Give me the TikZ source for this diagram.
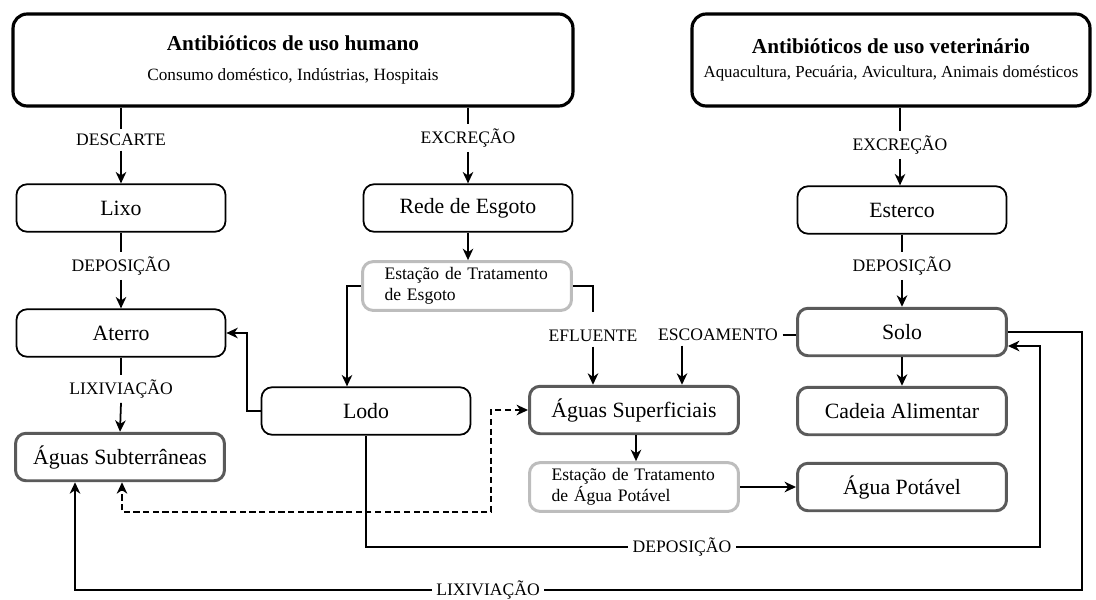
\documentclass[tikz,border=0pt]{standalone}
\usepackage{fontspec}
\setmainfont{Liberation Serif}
\usetikzlibrary{arrows.meta}
\definecolor{boxgray}{HTML}{5A5A5A}
\definecolor{etgray}{HTML}{BDBDBD}
\tikzset{
  srcbox/.style={draw, line width=1.8pt, rounded corners=8pt, align=center, minimum height=1.84cm},
  plainbox/.style={draw, line width=1pt, rounded corners=6pt, minimum width=4.18cm,
    minimum height=0.95cm, font=\fontsize{12.4}{14}\selectfont},
  thickbox/.style={plainbox, draw=boxgray, line width=1.7pt},
  plantbox/.style={draw=etgray, line width=1.7pt, rounded corners=6pt, minimum width=4.18cm,
    minimum height=0.96cm, text width=3.3cm, inner xsep=0.44cm, align=left,
    font=\fontsize{10}{12}\selectfont},
  flowlabel/.style={inner sep=2.5pt, font=\fontsize{10}{12}\selectfont},
  conn/.style={line width=1pt},
  arr/.style={conn, -{Stealth[length=6.5pt,width=6pt,inset=2pt]}},
  dasharr/.style={conn, dash pattern=on 3.5pt off 2pt,
    {Stealth[length=6.5pt,width=6pt,inset=2pt]}-{Stealth[length=6.5pt,width=6pt,inset=2pt]}}
}

\begin{document}
\begin{tikzpicture}[x=0.02cm, y=-0.02cm]
  \useasboundingbox (0,0) rectangle (1096,599);
  % sources
  \node[srcbox, minimum width=11.2cm] (human) at (293,60)
    {{\fontsize{12.1}{14}\selectfont\bfseries Antibióticos de uso humano}\\[5pt]
     {\fontsize{9.8}{12}\selectfont Consumo doméstico, Indústrias, Hospitais}};
  \node[srcbox, minimum width=7.96cm] (vet) at (891,60)
    {{\fontsize{12.1}{14}\selectfont\bfseries Antibióticos de uso veterinário}\\[2pt]
     {\fontsize{9.6}{12}\selectfont Aquacultura, Pecuária, Avicultura, Animais domésticos}};
  % boxes
  \node[plainbox] (lixo) at (121,208) {Lixo};
  \node[plainbox] (aterro) at (121,333) {Aterro};
  \node[thickbox] (agsub) at (120,457) {Águas Subterrâneas};
  \node[plainbox] (rede) at (468,208) {Rede de Esgoto};
  \node[plantbox] (ete) at (467,286) {Estação de Tratamento\\de Esgoto};
  \node[plainbox] (lodo) at (366,411) {Lodo};
  \node[thickbox] (agsup) at (634,410) {Águas Superficiais};
  \node[plantbox] (eta) at (634,487) {Estação de Tratamento\\de Água Potável};
  \node[plainbox] (esterco) at (902,210) {Esterco};
  \node[thickbox] (solo) at (902,332) {Solo};
  \node[thickbox] (cadeia) at (902,411) {Cadeia Alimentar};
  \node[thickbox] (agpot) at (902,487) {Água Potável};
  % labels
  \node[flowlabel] (desc) at (121,140) {DESCARTE};
  \node[flowlabel] (exch) at (468,138) {EXCREÇÃO};
  \node[flowlabel] (excv) at (900,145) {EXCREÇÃO};
  \node[flowlabel] (depl) at (121,266) {DEPOSIÇÃO};
  \node[flowlabel] (depv) at (902,266) {DEPOSIÇÃO};
  \node[flowlabel] (lixl) at (121,389) {LIXIVIAÇÃO};
  \node[flowlabel] (eflu) at (593,336) {EFLUENTE};
  \node[flowlabel] (escoa) at (718,335) {ESCOAMENTO};
  \node[flowlabel] (deplodo) at (682,547) {DEPOSIÇÃO};
  \node[flowlabel] (lixsolo) at (488,590) {LIXIVIAÇÃO};
  \coordinate (depcorner) at (1040,346);
  \coordinate (lixcorner) at (1082,590);
  \coordinate (dashcorner) at (491,512);
  % left column
  \draw[conn] (human.south -| desc) -- (desc.north);
  \draw[arr] (desc.south) -- (lixo.north);
  \draw[conn] (lixo.south) -- (depl.north);
  \draw[arr] (depl.south) -- (aterro.north);
  \draw[conn] (aterro.south) -- (lixl.north);
  \draw[arr] (lixl.south) -- (agsub.north);
  % middle
  \draw[conn] (human.south -| exch) -- (exch.north);
  \draw[arr] (exch.south) -- (rede.north);
  \draw[arr] (rede.south) -- (rede.south |- ete.north);
  \draw[arr] (ete.west) -| ([xshift=-0.38cm]lodo.north);
  \draw[conn] (ete.east) -| ([yshift=0.26cm]eflu.north);
  \draw[arr] (eflu.south) -- (eflu.south |- agsup.north);
  \draw[arr] (lodo.west) -- ++(-14,0) |- (aterro.east);
  \draw[arr] ([xshift=0.04cm]agsup.south) -- ([xshift=0.04cm]eta.north);
  \draw[arr] (eta.east) -- (agpot.west);
  \draw[dasharr] (agsup.west) -| (dashcorner) -| ([xshift=0.04cm]agsub.south);
  % right column
  \draw[conn] (vet.south -| excv) -- (excv.north);
  \draw[arr] (excv.south) -- (excv.south |- esterco.north);
  \draw[conn] (esterco.south) -- (depv.north);
  \draw[arr] (depv.south) -- (solo.north);
  \draw[arr] (solo.south) -- (cadeia.north);
  \draw[conn] (escoa.east) -- (escoa.east -| solo.west);
  \draw[arr] ([xshift=-0.72cm]escoa.south) -- ([xshift=-0.72cm]escoa.south |- agsup.north);
  % return paths
  \draw[conn] (lodo.south) |- (deplodo.west);
  \draw[arr] (deplodo.east) -| (depcorner) -- ([yshift=-0.28cm]solo.east);
  \draw[conn] (solo.east) -| (lixcorner) -- (lixsolo.east);
  \draw[arr] (lixsolo.west) -| ([xshift=-0.9cm]agsub.south);
\end{tikzpicture}
\end{document}
